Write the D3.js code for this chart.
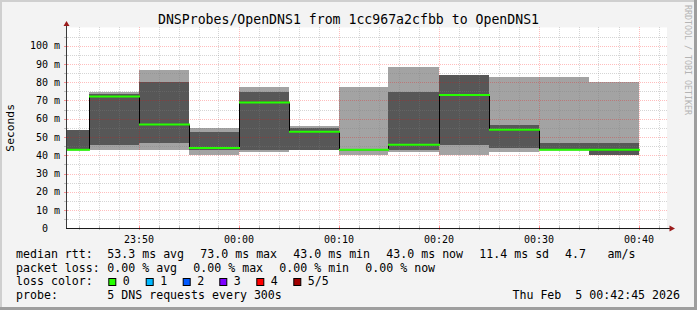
<!DOCTYPE html>
<html><head><meta charset="utf-8">
<script src="https://cdn.jsdelivr.net/npm/d3@7"></script>
<style>
body{margin:0;background:#fff}
svg{display:block}
text{font-family:"DejaVu Sans Mono",monospace;white-space:pre;fill:#000}
</style>
</head><body>
<svg id="c" width="697" height="310"></svg>
<script>
// ---------------- data ----------------
const title = "DNSProbes/OpenDNS1 from 1cc967a2cfbb to OpenDNS1";
const yAxisTitle = "Seconds";
const sideText = "RRDTOOL / TOBI OETIKER";
const timeStart = "2026-02-04T23:42:45";
const timeEnd = "2026-02-05T00:42:45";
const binStarts = ["2026-02-04T23:42:45","2026-02-04T23:45:00","2026-02-04T23:50:00","2026-02-04T23:55:00",
  "2026-02-05T00:00:00","2026-02-05T00:05:00","2026-02-05T00:10:00","2026-02-05T00:15:00",
  "2026-02-05T00:20:00","2026-02-05T00:25:00","2026-02-05T00:30:00","2026-02-05T00:35:00"];
const binLastEnd = "2026-02-05T00:40:00";
// ping round-trip times in ms (sorted pings: min, 2nd, median, 4th, max)
const pingMin    = [43.0, 42.8, 42.8, 40.1, 41.8, 42.9, 40.1, 41.8, 40.1, 41.8, 42.8, 40.1];
const ping2      = [43.0, 45.6, 46.9, 42.8, 43.0, 42.9, 42.8, 42.9, 45.6, 43.8, 42.8, 40.1];
const pingMedian = [43.0, 72.2, 56.8, 44.0, 68.9, 52.9, 43.0, 45.8, 73.0, 53.9, 43.0, 43.0];
const ping4      = [53.8, 73.3, 80.3, 52.7, 74.8, 54.8, 43.2, 74.8, 84.1, 56.6, 46.7, 46.7];
const pingMax    = [53.8, 74.8, 86.9, 55.0, 77.5, 56.1, 77.5, 88.2, 84.1, 83.0, 83.0, 80.3];
const lossCount  = [0,0,0,0,0,0,0,0,0,0,0,0];

const xTickTimes  = ["2026-02-04T23:50:00","2026-02-05T00:00:00","2026-02-05T00:10:00","2026-02-05T00:20:00","2026-02-05T00:30:00","2026-02-05T00:40:00"];
const xTickLabels = ["23:50","00:00","00:10","00:20","00:30","00:40"];
const yTickValues = [0,10,20,30,40,50,60,70,80,90,100];
const yTickLabels = ["0  ","10 m","20 m","30 m","40 m","50 m","60 m","70 m","80 m","90 m","100 m"];
const yMax = 110;

const rttLabel = "median rtt:";
const rttStats = ["53.3 ms avg","73.0 ms max","43.0 ms min","43.0 ms now","11.4 ms sd","4.7","am/s"];
const lossLabel = "packet loss:";
const lossStats = ["0.00 % avg","0.00 % max","0.00 % min","0.00 % now"];
const lossColorLabel = "loss color:";
const lossLegendLabels = ["0","1","2","3","4","5/5"];
const lossLegendColors = ["#26ff00","#00b8ff","#0059ff","#7e00ff","#ff0000","#a00000"];
const probeLabel = "probe:";
const probeText = "5 DNS requests every 300s";
const dateText = "Thu Feb  5 00:42:45 2026";

// ---------------- layout ----------------
const W = 697, H = 310;
const L = 66, R = 666, T = 27.4, B = 228.3;
const svg = d3.select("#c");
const P = s => new Date(s);

const x = d3.scaleTime().domain([P(timeStart), P(timeEnd)]).range([L, R]);
const y = d3.scaleLinear().domain([0, yMax]).range([B, T]);

// background + frame
svg.append("rect").attr("width", W).attr("height", H).attr("fill", "#f3f3f3");
svg.append("rect").attr("x",0).attr("y",0).attr("width",W).attr("height",2).attr("fill","#cfcfcf");
svg.append("rect").attr("x",0).attr("y",0).attr("width",2).attr("height",H).attr("fill","#cfcfcf");
svg.append("rect").attr("x",0).attr("y",H-3).attr("width",W).attr("height",3).attr("fill","#9e9e9e");
svg.append("rect").attr("x",W-3).attr("y",0).attr("width",3).attr("height",H).attr("fill","#9e9e9e");

// plot canvas
svg.append("rect").attr("x", L).attr("y", T).attr("width", R - L + 1).attr("height", B - T).attr("fill", "#fff");

// bins
const bins = binStarts.map((s, i) => ({
  x0: P(s), x1: P(i + 1 < binStarts.length ? binStarts[i + 1] : binLastEnd),
  min: pingMin[i], p2: ping2[i], med: pingMedian[i], p4: ping4[i], max: pingMax[i], loss: lossCount[i]
}));

// smoke
const smoke = svg.append("g").attr("shape-rendering", "crispEdges");
smoke.selectAll("rect.outer").data(bins).join("rect").attr("class","outer")
  .attr("x", d => Math.round(x(d.x0))).attr("width", d => Math.round(x(d.x1)) - Math.round(x(d.x0)))
  .attr("y", d => Math.round(y(d.max))).attr("height", d => Math.round(y(d.min)) - Math.round(y(d.max)))
  .attr("fill", "#a3a3a3");
smoke.selectAll("rect.inner").data(bins).join("rect").attr("class","inner")
  .attr("x", d => Math.round(x(d.x0))).attr("width", d => Math.round(x(d.x1)) - Math.round(x(d.x0)))
  .attr("y", d => Math.round(y(d.p4))).attr("height", d => Math.round(y(d.p2)) - Math.round(y(d.p4)))
  .attr("fill", "#575757");

// grid (drawn over smoke, as rrdtool does)
const minorCol = "rgba(128,128,128,0.33)", majorCol = "rgba(255,0,0,0.26)";
const grid = svg.append("g").attr("shape-rendering", "crispEdges");
const minorX = d3.timeMinute.every(2).range(P(timeStart), P(timeEnd));
const majorX = xTickTimes.map(P);
grid.selectAll("line.mx").data(minorX.filter(t => t.getMinutes() % 10 !== 0)).join("line")
  .attr("x1", d => Math.round(x(d)) + 0.5).attr("x2", d => Math.round(x(d)) + 0.5)
  .attr("y1", T).attr("y2", B).attr("stroke", minorCol).attr("stroke-dasharray", "1,1");
const minorY = d3.range(5, yMax, 10);
grid.selectAll("line.my").data(minorY).join("line")
  .attr("x1", L).attr("x2", R + 1).attr("y1", d => Math.round(y(d)) + 0.5).attr("y2", d => Math.round(y(d)) + 0.5)
  .attr("stroke", minorCol).attr("stroke-dasharray", "1,1");
grid.selectAll("line.Mx").data(majorX).join("line")
  .attr("x1", d => Math.round(x(d)) + 0.5).attr("x2", d => Math.round(x(d)) + 0.5)
  .attr("y1", T).attr("y2", B).attr("stroke", majorCol).attr("stroke-dasharray", "1,1");
grid.selectAll("line.My").data(yTickValues.filter(v => v > 0)).join("line")
  .attr("x1", L).attr("x2", R + 1).attr("y1", d => Math.round(y(d)) + 0.5).attr("y2", d => Math.round(y(d)) + 0.5)
  .attr("stroke", majorCol).attr("stroke-dasharray", "1,1");

// median: black step line, then loss-coloured segments
const stepPts = bins.map(d => [x(d.x0), y(d.med)]).concat([[x(P(binLastEnd)), y(bins[bins.length - 1].med)]]);
svg.append("path").attr("d", d3.line().curve(d3.curveStepAfter)(stepPts.map(p => [Math.round(p[0]) + 0.5, p[1]])))
  .attr("fill", "none").attr("stroke", "#000").attr("stroke-width", 1);
svg.append("g").selectAll("line").data(bins).join("line")
  .attr("x1", d => Math.round(x(d.x0))).attr("x2", d => Math.round(x(d.x1)) + 1)
  .attr("y1", d => y(d.med)).attr("y2", d => y(d.med))
  .attr("stroke", d => lossLegendColors[d.loss]).attr("stroke-width", 2);

// axes with d3
const xAxis = d3.axisBottom(x).tickValues(majorX).tickFormat((d, i) => xTickLabels[i]).tickSize(0).tickPadding(6);
const gx = svg.append("g").attr("transform", `translate(0,${B})`).call(xAxis);
gx.select(".domain").remove();
gx.selectAll("text").attr("font-size", 10).attr("font-family", "DejaVu Sans Mono").attr("fill", "#000").attr("dy", "0.85em");

const yAxis = d3.axisLeft(y).tickValues(yTickValues).tickFormat((d, i) => yTickLabels[i]).tickSize(0).tickPadding(6);
const gy = svg.append("g").attr("transform", `translate(${L},0)`).call(yAxis);
gy.select(".domain").remove();
gy.selectAll("text").attr("font-size", 10).attr("font-family", "DejaVu Sans Mono").attr("fill", "#000")
  .attr("style", "white-space:pre");

// tick marks
const tk = svg.append("g").attr("shape-rendering", "crispEdges");
tk.selectAll("line.tx").data(minorX).join("line")
  .attr("x1", d => Math.round(x(d)) + 0.5).attr("x2", d => Math.round(x(d)) + 0.5)
  .attr("y1", B - 2).attr("y2", B + 2).attr("stroke", d => d.getMinutes() % 10 === 0 ? "rgba(255,0,0,0.4)" : "rgba(128,128,128,0.45)");
tk.selectAll("line.ty").data(d3.range(5, yMax, 5)).join("line")
  .attr("x1", L - 2).attr("x2", L + 2).attr("y1", d => Math.round(y(d)) + 0.5).attr("y2", d => Math.round(y(d)) + 0.5)
  .attr("stroke", d => d % 10 === 0 ? "rgba(255,0,0,0.4)" : "rgba(128,128,128,0.45)");

// axis lines and arrows
svg.append("line").attr("x1", L + 0.5).attr("x2", L + 0.5).attr("y1", B + 0.5).attr("y2", 24).attr("stroke", "#3a3a3a").attr("shape-rendering","crispEdges");
svg.append("line").attr("x1", L).attr("x2", 670).attr("y1", Math.round(B) + 0.5).attr("y2", Math.round(B) + 0.5).attr("stroke", "#1a1a1a").attr("shape-rendering","crispEdges");
svg.append("path").attr("d", `M${L + 0.5},21 L${L + 3.5},26 L${L - 2.5},26 Z`).attr("fill", "#9b1b1b");
svg.append("path").attr("d", `M675,${Math.round(B) + 0.5} L669.5,${Math.round(B) - 2.5} L669.5,${Math.round(B) + 3.5} Z`).attr("fill", "#9b1b1b");

// title, axis title, side text
svg.append("text").attr("x", 348.5).attr("y", 24).attr("text-anchor", "middle").attr("font-size", 13.2).text(title);
svg.append("text").attr("transform", `translate(14,${(T + B) / 2}) rotate(-90)`).attr("text-anchor", "middle")
  .attr("font-size", 11.3).text(yAxisTitle);
svg.append("text").attr("transform", "translate(685,5) rotate(90)").attr("font-size", 8.3)
  .attr("style", "fill:#b4b4b4;white-space:pre").text(sideText);

// legend
const fs = 11.6;
const rows = [258, 271.5, 285, 298.5];
const lg = svg.append("g").attr("font-size", fs);
lg.append("text").attr("x", 16).attr("y", rows[0]).text(rttLabel);
const rttX = [107.3, 200.3, 293.3, 386.3, 479.3, 565, 607.5];
rttStats.forEach((s, i) => lg.append("text").attr("x", rttX[i]).attr("y", rows[0]).text(s));
lg.append("text").attr("x", 16).attr("y", rows[1]).text(lossLabel);
const lossX = [107.3, 193.3, 279.3, 365.3];
lossStats.forEach((s, i) => lg.append("text").attr("x", lossX[i]).attr("y", rows[1]).text(s));
lg.append("text").attr("x", 16).attr("y", rows[2]).text(lossColorLabel);
const boxX = [108.3, 145.7, 182.7, 219.3, 256.3, 293.3];
lossLegendLabels.forEach((s, i) => {
  lg.append("rect").attr("x", boxX[i] + 0.5).attr("y", 278.5).attr("width", 7).attr("height", 7)
    .attr("fill", lossLegendColors[i]).attr("stroke", "#000").attr("stroke-width", 1);
  lg.append("text").attr("x", boxX[i] + 14.5).attr("y", rows[2]).text(s);
});
lg.append("text").attr("x", 16).attr("y", rows[3]).text(probeLabel);
lg.append("text").attr("x", 107.3).attr("y", rows[3]).text(probeText);
lg.append("text").attr("x", 680).attr("y", rows[3]).attr("text-anchor", "end").text(dateText);
</script>
</body></html>
